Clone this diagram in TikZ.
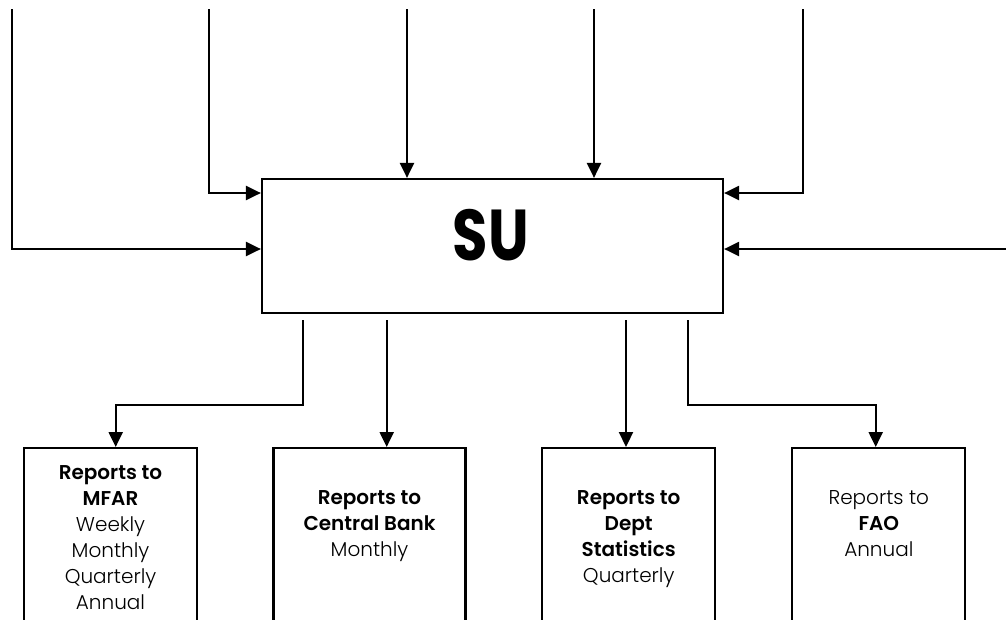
\documentclass[tikz,border=0pt]{standalone}
\usepackage{fontspec}
\setmainfont{Poppins}[UprightFont={* Light},BoldFont={* SemiBold}]
\newfontfamily\headfont{Poppins}[UprightFont={* Bold}]
\usetikzlibrary{arrows.meta}
\begin{document}
\begin{tikzpicture}[x=1pt,y=-1pt,
  wire/.style={line width=2.2pt},
  arr/.style={wire,-{Triangle[length=15pt,width=14pt]}},
  box/.style={draw,line width=2.2pt,inner sep=0pt},
  repbox/.style={box,minimum width=173pt,minimum height=253pt,anchor=north},
  lbl/.style={align=center,inner sep=0pt,anchor=north,font=\fontsize{20}{26}\selectfont}]
\useasboundingbox (0,0) rectangle (1006,619);
\clip (0,0) rectangle (1006,619);

% central unit
\node[box,minimum width=461pt,minimum height=134pt] (su) at (492.5,246) {};
\node[font=\headfont\fontsize{72}{72}\selectfont,anchor=base,inner sep=0pt] (sutext) at (491,260.7) {\scalebox{0.8}[1]{SU}};

% incoming flows
\coordinate (in1) at (12,9);
\coordinate (in2) at (209,9);
\coordinate (in3) at (407,9);
\coordinate (in4) at (594,9);
\coordinate (in5) at (802.7,9);
\coordinate (in6) at (1006,249);
\draw[arr] (in1) |- (su.west |- 0,249);
\draw[arr] (in2) |- (su.west |- 0,193);
\draw[arr] (in3) -- (su.north -| in3);
\draw[arr] (in4) -- (su.north -| in4);
\draw[arr] (in5) |- (su.east |- 0,193);
\draw[arr] (in6) -- (su.east |- in6);

% report boxes
\node[repbox] (r1) at (110.5,447) {};
\node[repbox,minimum width=192pt] (r2) at (369.5,447) {};
\node[repbox] (r3) at (628.7,447) {};
\node[repbox] (r4) at (878.8,447) {};

\node[lbl] (t1) at (110.5,465) {\textbf{Reports to}\\\textbf{MFAR}\\Weekly\\Monthly\\Quarterly\\Annual};
\node[lbl] (t2) at (369.5,490.7) {\textbf{Reports to}\\\textbf{Central Bank}\\Monthly};
\node[lbl] (t3) at (628.7,490.7) {\textbf{Reports to}\\\textbf{Dept}\\\textbf{Statistics}\\Quarterly};
\node[lbl] (t4) at (878.8,490.7) {Reports to\\\textbf{FAO}\\Annual};

% outgoing reports
\coordinate (o1) at (303.3,320);
\coordinate (o2) at (386.7,320);
\coordinate (o3) at (626,320);
\coordinate (o4) at (688.3,320);
\draw[arr] (o1) -- ++(0,85) -| (r1.north -| 115.7,0);
\draw[arr] (o2) -- (r2.north -| o2);
\draw[arr] (o3) -- (r3.north -| o3);
\draw[arr] (o4) -- ++(0,85) -| (r4.north -| 875.7,0);
\end{tikzpicture}
\end{document}
